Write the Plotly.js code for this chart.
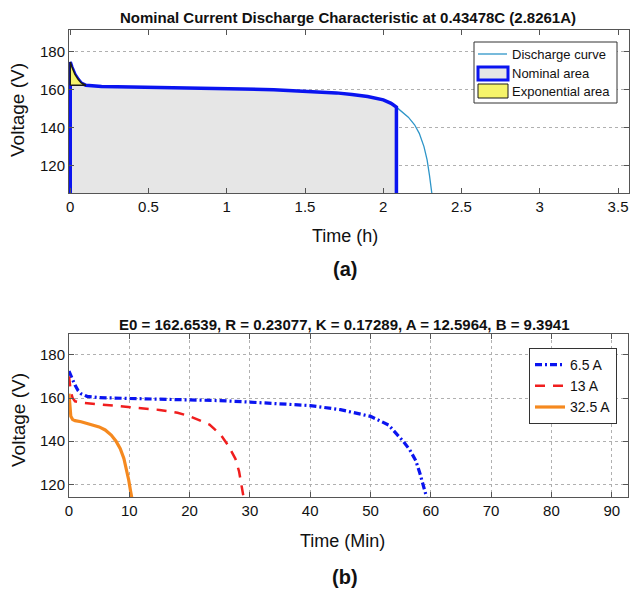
<!DOCTYPE html>
<html>
<head>
<meta charset="utf-8">
<script src="https://cdn.plot.ly/plotly-3.0.1.min.js"></script>
<style>html,body{margin:0;padding:0;background:#fff;}#chart{width:631px;height:590px;}</style>
</head>
<body>
<div id="chart"></div>
<script>
// ---- (a) nominal discharge curve, time in hours ----
const dischargeT = [0, 0.01, 0.02, 0.03, 0.05, 0.07, 0.1, 0.15, 0.2, 0.3, 0.5, 0.7, 0.9, 1.1, 1.3, 1.5, 1.7, 1.8, 1.9, 2.0, 2.05, 2.084, 2.12, 2.16, 2.2, 2.23, 2.26, 2.28, 2.295, 2.305, 2.31];
const dischargeV = [174.5, 172, 170, 168, 165.5, 163.5, 162.3, 161.8, 161.6, 161.5, 161.3, 161.1, 160.8, 160.4, 159.9, 159.3, 158.3, 157.5, 156.4, 154.6, 152.8, 150.8, 148.5, 145.5, 141.5, 137, 130, 123, 115, 108, 105.6];
const nominalEndT = 2.084;     // end of nominal zone (h)
const expEndT = 0.1;           // end of exponential zone (h)
const expBaseV = 162.3;        // voltage at end of exponential zone
const floorV = 100;            // below axis floor
const legendANames = ['Discharge curve', 'Nominal area', 'Exponential area'];

// ---- (b) discharge at several currents, time in minutes ----
const seriesNames = ['6.5 A', '13 A', '32.5 A'];
const t65 = [0, 0.5, 1, 1.5, 2, 3, 5, 10, 15, 20, 25, 30, 35, 40, 45, 50, 53, 55.4, 56.5, 57.5, 58.2, 58.9, 59.3];
const v65 = [172.5, 169, 166, 163.5, 162, 160.8, 160.2, 159.8, 159.5, 159.3, 158.8, 158.1, 157.4, 156.5, 154.6, 151.5, 147.5, 140, 136, 131, 125, 118, 114];
const t13 = [0, 0.3, 0.6, 1, 2.3, 5, 7.7, 10, 12.5, 15, 18, 20, 23.3, 25.2, 26.4, 27.6, 28.2, 28.8, 28.95];
const v13 = [170, 163, 160, 158.5, 157.8, 157.1, 156.5, 156, 155.3, 154.5, 153.2, 151.6, 147.7, 142.8, 138, 131.8, 126, 116, 114];
const t325 = [0, 0.15, 0.3, 0.6, 1, 2, 3, 4, 5, 6, 7, 7.8, 8.5, 9.1, 9.5, 9.9, 10.2, 10.4];
const v325 = [162, 156, 151.5, 150, 149.5, 149, 148.3, 147.5, 146.6, 145.2, 142.8, 140, 136.5, 132, 127.7, 122, 117, 114];

// build area polygons from the curve data
const nomT = [0], nomV = [floorV];
const expT = [0], expV = [expBaseV];
for (let i = 0; i < dischargeT.length; i++) {
  if (dischargeT[i] <= nominalEndT) { nomT.push(dischargeT[i]); nomV.push(dischargeV[i]); }
  if (dischargeT[i] <= expEndT) { expT.push(dischargeT[i]); expV.push(dischargeV[i]); }
}
nomT.push(nominalEndT); nomV.push(floorV);
expT.push(0); expV.push(expBaseV);

const FONT = 'Liberation Sans, Arial, sans-serif';
const C_CURVE = '#2e95c8', C_NOM = '#0a14f0', C_NOMFILL = '#e6e6e6', C_EXP = '#f6f46a';

const traces = [
  {x: dischargeT, y: dischargeV, type: 'scatter', mode: 'lines', name: legendANames[0],
   line: {color: C_CURVE, width: 1.3}, xaxis: 'x', yaxis: 'y', showlegend: false},
  {x: nomT, y: nomV, type: 'scatter', mode: 'lines', name: legendANames[1], fill: 'toself',
   fillcolor: C_NOMFILL, line: {color: C_NOM, width: 3.5}, xaxis: 'x', yaxis: 'y', showlegend: false},
  {x: expT, y: expV, type: 'scatter', mode: 'lines', name: legendANames[2], fill: 'toself',
   fillcolor: C_EXP, line: {color: '#1a1a1a', width: 1.5}, xaxis: 'x', yaxis: 'y', showlegend: false},
  {x: t65, y: v65, type: 'scatter', mode: 'lines', name: seriesNames[0],
   line: {color: '#0a14f0', width: 3.2, dash: '7px,3px,2px,3px'}, xaxis: 'x2', yaxis: 'y2', legend: 'legend2'},
  {x: t13, y: v13, type: 'scatter', mode: 'lines', name: seriesNames[1],
   line: {color: '#f01e1e', width: 2.5, dash: '10px,8px'}, xaxis: 'x2', yaxis: 'y2', legend: 'legend2'},
  {x: t325, y: v325, type: 'scatter', mode: 'lines', name: seriesNames[2],
   line: {color: '#f5891f', width: 3.2}, xaxis: 'x2', yaxis: 'y2', legend: 'legend2'}
];

const W = 631, H = 590;
const px = v => v / W, py = v => (H - v) / H;

const axBase = {
  showline: true, linecolor: '#555', linewidth: 1, mirror: 'ticks',
  ticks: 'inside', ticklen: 5, tickcolor: '#555', zeroline: false,
  tickfont: {family: FONT, size: 15, color: '#111'},
  gridcolor: '#b0b0b0', griddash: 'dot', gridwidth: 1
};

// manual legend for panel (a): box, symbols and labels in paper coords
const shapes = [
  {type: 'rect', xref: 'paper', yref: 'paper', x0: px(474), x1: px(617), y0: py(103), y1: py(42),
   line: {color: '#333', width: 1}, fillcolor: '#fff', layer: 'above'},
  {type: 'line', xref: 'paper', yref: 'paper', x0: px(478), x1: px(507), y0: py(54), y1: py(54),
   line: {color: C_CURVE, width: 1.3}, layer: 'above'},
  {type: 'rect', xref: 'paper', yref: 'paper', x0: px(478), x1: px(508), y0: py(80), y1: py(67),
   line: {color: C_NOM, width: 3}, fillcolor: C_NOMFILL, layer: 'above'},
  {type: 'rect', xref: 'paper', yref: 'paper', x0: px(478), x1: px(508), y0: py(98), y1: py(84),
   line: {color: '#1a1a1a', width: 1}, fillcolor: C_EXP, layer: 'above'}
];
const legendAnn = [54, 73.5, 91].map((yy, i) => ({
  text: legendANames[i], xref: 'paper', yref: 'paper', x: px(510), y: py(yy),
  xanchor: 'left', yanchor: 'middle', showarrow: false, font: {family: FONT, size: 13, color: '#111'}
}));

const layout = {
  width: W, height: H,
  margin: {l: 0, r: 0, t: 0, b: 0},
  paper_bgcolor: '#fff', plot_bgcolor: '#fff',
  font: {family: FONT, color: '#111'},
  xaxis: Object.assign({}, axBase, {domain: [px(69), px(629)], range: [-0.008, 3.57], dtick: 0.5, tick0: 0, showgrid: false, anchor: 'y'}),
  yaxis: Object.assign({}, axBase, {domain: [py(193), py(30)], range: [105.6, 191.4], dtick: 20, tick0: 0, showgrid: true, anchor: 'x'}),
  xaxis2: Object.assign({}, axBase, {domain: [px(69), px(628)], range: [0, 92.7], dtick: 10, tick0: 0, showgrid: true, anchor: 'y2'}),
  yaxis2: Object.assign({}, axBase, {domain: [py(497), py(334)], range: [114.1, 189.7], dtick: 20, tick0: 0, showgrid: true, anchor: 'x2'}),
  legend2: {x: px(617), y: py(348), xanchor: 'right', yanchor: 'top', bgcolor: '#fff',
           bordercolor: '#333', borderwidth: 1, font: {family: FONT, size: 14, color: '#111'},
           tracegroupgap: 0, itemwidth: 30},
  shapes: shapes,
  annotations: legendAnn.concat([
    {text: '<b>Nominal Current Discharge Characteristic at 0.43478C (2.8261A)</b>', xref: 'paper', yref: 'paper',
     x: px(348), y: py(18), xanchor: 'center', yanchor: 'middle', showarrow: false, font: {family: FONT, size: 15, color: '#111'}},
    {text: 'Time (h)', xref: 'paper', yref: 'paper', x: px(345), y: py(236), xanchor: 'center', yanchor: 'middle',
     showarrow: false, font: {family: FONT, size: 18, color: '#111'}},
    {text: 'Voltage (V)', xref: 'paper', yref: 'paper', x: px(18), y: py(110), xanchor: 'center', yanchor: 'middle',
     textangle: -90, showarrow: false, font: {family: FONT, size: 19, color: '#111'}},
    {text: '<b>(a)</b>', xref: 'paper', yref: 'paper', x: px(345), y: py(269), xanchor: 'center', yanchor: 'middle',
     showarrow: false, font: {family: FONT, size: 20, color: '#111'}},
    {text: '<b>E0 = 162.6539, R = 0.23077, K = 0.17289, A = 12.5964, B = 9.3941</b>', xref: 'paper', yref: 'paper',
     x: px(344), y: py(324), xanchor: 'center', yanchor: 'middle', showarrow: false, font: {family: FONT, size: 15, color: '#111'}},
    {text: 'Time (Min)', xref: 'paper', yref: 'paper', x: px(342), y: py(541), xanchor: 'center', yanchor: 'middle',
     showarrow: false, font: {family: FONT, size: 18, color: '#111'}},
    {text: 'Voltage (V)', xref: 'paper', yref: 'paper', x: px(18), y: py(420), xanchor: 'center', yanchor: 'middle',
     textangle: -90, showarrow: false, font: {family: FONT, size: 19, color: '#111'}},
    {text: '<b>(b)</b>', xref: 'paper', yref: 'paper', x: px(345), y: py(577), xanchor: 'center', yanchor: 'middle',
     showarrow: false, font: {family: FONT, size: 20, color: '#111'}}
  ])
};

Plotly.newPlot('chart', traces, layout, {displayModeBar: false, staticPlot: true});
</script>
</body>
</html>
